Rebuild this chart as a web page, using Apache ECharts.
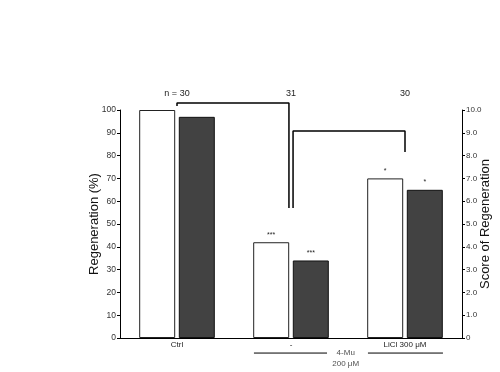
<!DOCTYPE html>
<html><head><meta charset="utf-8">
<script src="https://cdn.jsdelivr.net/npm/echarts@6/dist/echarts.min.js"></script>
<style>html,body{margin:0;padding:0;background:#fff}#c{width:500px;height:372px}</style>
</head><body><div id="c"></div>
<script>
var categories = ['Ctrl', '-', 'LiCl 300 μM'];
var nLabels = ['n = 30', '31', '30'];
var regenerationPct = [100, 42, 70];
var regenerationScore = [9.7, 3.4, 6.5];
var sigPct = ['', '***', '*'];
var sigScore = ['', '***', '*'];
// significance brackets in data units [category position, % value]
var bracketCtrlVsMu = [[0, 101.8], [0, 103.1], [0.982, 103.1], [0.982, 57]];
var bracketMuVsLiCl = [[1.018, 57], [1.018, 90.8], [2.0, 90.8], [2.0, 81.6]];
var groupLine = [[0.675, -6.6], [1.316, -6.6], null, [1.675, -6.6], [2.333, -6.6]];
var groupText = [[1.48, -6.6, '4-Mu'], [1.48, -11.4, '200 μM']];

var FONT = 'Liberation Sans, Arial, sans-serif';
var chart = echarts.init(document.getElementById('c'));
var bracketStyle = {color: '#000', width: 1.5};
chart.setOption({
  animation: false,
  grid: {left: 120, right: 38, top: 110, bottom: 34, containLabel: false, outerBoundsMode: 'none'},
  xAxis: [
    {type: 'category', data: categories, axisLine: {onZero: false, lineStyle: {color: '#000', width: 1}},
     axisTick: {show: false}, axisLabel: {color: '#222', fontSize: 8, fontFamily: FONT, margin: 3}},
    {type: 'category', data: nLabels, position: 'top', axisLine: {show: false}, axisTick: {show: false},
     axisLabel: {color: '#222', fontSize: 9, fontFamily: FONT, margin: 12}},
    {type: 'value', min: -0.5, max: 2.5, show: false}
  ],
  yAxis: [
    {type: 'value', min: 0, max: 100, interval: 10, name: 'Regeneration (%)', nameLocation: 'middle',
     nameGap: 19, nameMoveOverlap: false, nameTextStyle: {fontSize: 13, color: '#111', fontFamily: FONT},
     axisLine: {show: true, onZero: false, lineStyle: {color: '#000'}},
     axisTick: {show: true, length: 3, lineStyle: {color: '#000'}},
     splitLine: {show: false}, axisLabel: {color: '#333', fontSize: 8.5, fontFamily: FONT, margin: 4}},
    {type: 'value', min: 0, max: 10, interval: 1, position: 'right', name: 'Score of Regeneration',
     nameLocation: 'middle', nameRotate: 90, nameGap: 17, nameMoveOverlap: false,
     nameTextStyle: {fontSize: 13, color: '#111', fontFamily: FONT},
     axisLine: {show: true, onZero: false, lineStyle: {color: '#000'}},
     axisTick: {show: true, length: 3, lineStyle: {color: '#000'}},
     splitLine: {show: false},
     axisLabel: {color: '#333', fontSize: 8, fontFamily: FONT, margin: 4,
       formatter: function (v) { return v === 0 ? '0' : v.toFixed(1); }}}
  ],
  series: [
    {type: 'bar', xAxisIndex: 0, yAxisIndex: 0, data: regenerationPct, barWidth: 36, barGap: '10%',
     itemStyle: {color: '#fff', borderColor: '#222', borderWidth: 1},
     label: {show: true, position: 'top', distance: 4, fontSize: 7, color: '#222', fontFamily: FONT,
       formatter: function (p) { return sigPct[p.dataIndex]; }}},
    {type: 'bar', xAxisIndex: 0, yAxisIndex: 1, data: regenerationScore, barWidth: 36,
     itemStyle: {color: '#424242', borderColor: '#111', borderWidth: 1},
     label: {show: true, position: 'top', distance: 4, fontSize: 7, color: '#222', fontFamily: FONT,
       formatter: function (p) { return sigScore[p.dataIndex]; }}},
    {type: 'line', xAxisIndex: 2, yAxisIndex: 0, data: bracketCtrlVsMu, symbol: 'none', clip: false,
     lineStyle: bracketStyle, z: 5, silent: true},
    {type: 'line', xAxisIndex: 2, yAxisIndex: 0, data: bracketMuVsLiCl, symbol: 'none', clip: false,
     lineStyle: bracketStyle, z: 5, silent: true},
    {type: 'line', xAxisIndex: 2, yAxisIndex: 0, data: groupLine, symbol: 'none', clip: false,
     connectNulls: false, lineStyle: {color: '#000', width: 1}, z: 5, silent: true},
    {type: 'scatter', xAxisIndex: 2, yAxisIndex: 0, data: groupText, symbolSize: 1, clip: false,
     itemStyle: {color: 'rgba(0,0,0,0)'}, silent: true,
     label: {show: true, position: 'inside', fontSize: 8, color: '#222', fontFamily: FONT,
       backgroundColor: '#fff', padding: [0, 2],
       formatter: function (p) { return p.data[2]; }}}
  ]
});
</script></body></html>
